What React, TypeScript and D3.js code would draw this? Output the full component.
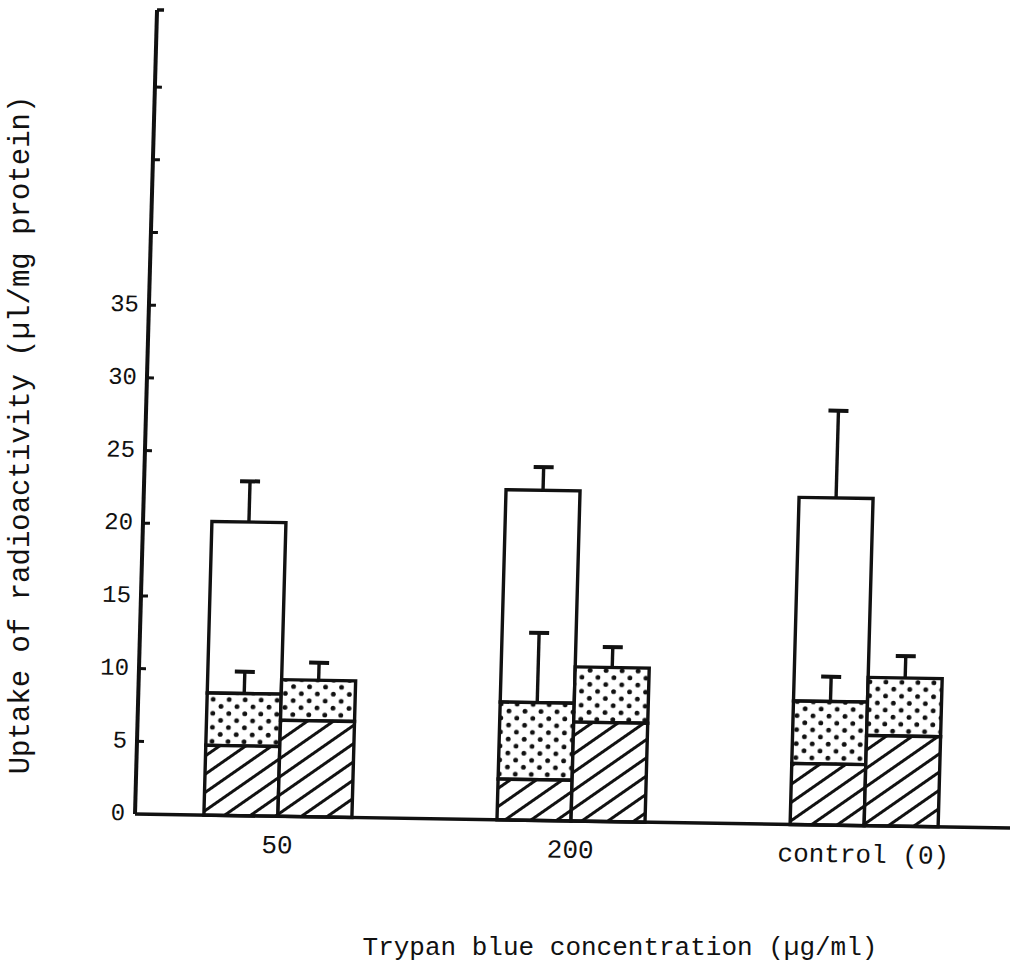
import React from "react";
import * as d3 from "d3";

// ---- data ----
const categories = ["50", "200", "control (0)"];
const leftHatched = [4.8, 2.8, 4.2];
const leftDotted = [3.6, 5.3, 4.3];
const leftOpen = [11.8, 14.6, 14.0];
const leftDottedErr = [1.5, 4.8, 1.7];
const leftOpenErr = [2.8, 1.6, 6.0];
const rightHatched = [6.6, 6.8, 6.2];
const rightDotted = [2.8, 3.8, 4.0];
const rightErr = [1.2, 1.4, 1.5];
const yTickLabels = [0, 5, 10, 15, 20, 25, 30, 35];
const yTickMarks = [5, 10, 15, 20, 25, 30, 35, 40, 45, 50];
const xTitle = "Trypan blue concentration (µg/ml)";
const yTitle = "Uptake of radioactivity (µl/mg protein)";

const W = 1013;
const H = 972;
const FONT = "'Liberation Mono', 'DejaVu Sans Mono', monospace";

export default function App() {
  const axisLen = 875;
  const y = d3.scaleLinear().domain([0, 55.3]).range([0, -804]);
  const x = d3
    .scaleBand<string>()
    .domain(categories)
    .range([0, 872])
    .paddingInner(0.495)
    .paddingOuter(0.235);
  const bw = x.bandwidth() / 2;

  const stroke = "#111";
  const sw = 3.4;

  const rows = categories.map((c, i) => {
    const x0 = x(c)!;
    const h = leftHatched[i];
    const d = h + leftDotted[i];
    const o = d + leftOpen[i];
    const rh = rightHatched[i];
    const rd = rh + rightDotted[i];
    return { c, i, x0, h, d, o, rh, rd };
  });

  const errBar = (cx: number, from: number, to: number, key: string) => (
    <g key={key}>
      <line x1={cx} x2={cx} y1={y(from)} y2={y(to)} stroke={stroke} strokeWidth={sw} />
      <line x1={cx - 10} x2={cx + 10} y1={y(to)} y2={y(to)} stroke={stroke} strokeWidth={sw + 0.6} />
    </g>
  );

  return (
    <svg width={W} height={H} style={{ display: "block", position: "absolute", left: 0, top: 0 }}>
      <defs>
        <pattern
          id="hatch"
          patternUnits="userSpaceOnUse"
          width={15}
          height={15}
          patternTransform="rotate(-36)"
        >
          <rect width={15} height={15} fill="#fff" />
          <line x1={0} x2={15} y1={7.5} y2={7.5} stroke="#111" strokeWidth={3} />
        </pattern>
        <pattern id="dots" patternUnits="userSpaceOnUse" width={16} height={14}>
          <rect width={16} height={14} fill="#fff" />
          <circle cx={3} cy={3} r={2.4} fill="#111" />
          <circle cx={11} cy={10} r={2.4} fill="#111" />
        </pattern>
      </defs>
      <rect width={W} height={H} fill="#fff" />
      <g transform="matrix(1, 0.016, -0.0274, 1, 135, 814)">
        {/* bars */}
        {rows.map((r) => (
          <g key={r.c}>
            {/* left stacked bar */}
            <rect x={r.x0} y={y(r.o)} width={bw} height={y(r.d) - y(r.o)} fill="#fff" stroke={stroke} strokeWidth={sw} />
            <rect x={r.x0} y={y(r.d)} width={bw} height={y(r.h) - y(r.d)} fill="url(#dots)" stroke={stroke} strokeWidth={sw} />
            <rect x={r.x0} y={y(r.h)} width={bw} height={y(0) - y(r.h)} fill="url(#hatch)" stroke={stroke} strokeWidth={sw} />
            {/* right stacked bar */}
            <rect x={r.x0 + bw} y={y(r.rd)} width={bw} height={y(r.rh) - y(r.rd)} fill="url(#dots)" stroke={stroke} strokeWidth={sw} />
            <rect x={r.x0 + bw} y={y(r.rh)} width={bw} height={y(0) - y(r.rh)} fill="url(#hatch)" stroke={stroke} strokeWidth={sw} />
            {errBar(r.x0 + bw / 2, r.o, r.o + leftOpenErr[r.i], "eo")}
            {errBar(r.x0 + bw / 2, r.d, r.d + leftDottedErr[r.i], "ed")}
            {errBar(r.x0 + bw * 1.5, r.rd, r.rd + rightErr[r.i], "er")}
          </g>
        ))}
        {/* axes */}
        <line x1={0} x2={0} y1={y(0)} y2={y(55.3)} stroke={stroke} strokeWidth={4} />
        <line x1={0} x2={7} y1={y(55.3)} y2={y(55.3)} stroke={stroke} strokeWidth={3.5} />
        <line x1={0} x2={axisLen} y1={0} y2={0} stroke={stroke} strokeWidth={3.4} />
        {yTickMarks.map((t) => (
          <line key={t} x1={0} x2={7} y1={y(t)} y2={y(t)} stroke={stroke} strokeWidth={3} />
        ))}
        {yTickLabels.map((t) => (
          <text
            key={t}
            x={-10}
            y={y(t)}
            textAnchor="end"
            dominantBaseline="central"
            fontFamily={FONT}
            fontSize={24}
            fill="#111"
          >
            {t}
          </text>
        ))}
        {categories.map((c) => (
          <text
            key={c}
            x={x(c)! + x.bandwidth() / 2}
            y={30}
            textAnchor="middle"
            dominantBaseline="central"
            fontFamily={FONT}
            fontSize={26}
            fill="#111"
          >
            {c}
          </text>
        ))}
      </g>
      <text
        x={620}
        y={948}
        textAnchor="middle"
        dominantBaseline="central"
        fontFamily={FONT}
        fontSize={26}
        fill="#111"
      >
        {xTitle}
      </text>
      <text
        transform="translate(21,435) rotate(-90)"
        textAnchor="middle"
        dominantBaseline="central"
        fontFamily={FONT}
        fontSize={29}
        fill="#111"
      >
        {yTitle}
      </text>
    </svg>
  );
}
